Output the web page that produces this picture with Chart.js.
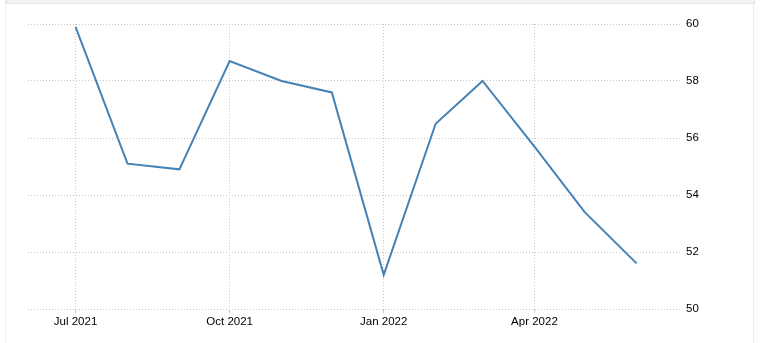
<!DOCTYPE html>
<html>
<head>
<meta charset="utf-8">
<script src="https://cdn.jsdelivr.net/npm/chart.js@4"></script>
<style>
  html, body { margin: 0; padding: 0; background: #fff; }
  #wrap { position: relative; width: 760px; height: 343px; overflow: hidden; }
  #topbar { position: absolute; left: 6px; top: -1px; width: 747px; height: 3px; background: #f3f3f3; border: 1px solid #e3e3e3; }
  #lline { position: absolute; left: 5px; top: 0; width: 1px; height: 343px; background: #f0f0f0; }
  #rline { position: absolute; left: 753px; top: 0; width: 1px; height: 343px; background: #ececec; }
  canvas { position: absolute; left: 0; top: 0; }
</style>
</head>
<body>
<div id="wrap">
  <div id="lline"></div>
  <div id="rline"></div>
  <div id="topbar"></div>
  <canvas id="c" width="760" height="343"></canvas>
</div>
<script>
// Data
const months = ["2021-07-01","2021-08-01","2021-09-01","2021-10-01","2021-11-01","2021-12-01",
                "2022-01-01","2022-02-01","2022-03-01","2022-04-01","2022-05-01","2022-06-01"];
const values = [59.9, 55.1, 54.9, 58.7, 58.0, 57.6, 51.2, 56.5, 58.0, 55.7, 53.4, 51.6];
const tickDates = ["2021-07-01","2021-10-01","2022-01-01","2022-04-01"];
const tickLabels = ["Jul 2021","Oct 2021","Jan 2022","Apr 2022"];
const yTicks = [50, 52, 54, 56, 58, 60];

const toMs = s => Date.parse(s + "T00:00:00Z");
const DAY = 86400000;
const points = months.map((m, i) => ({ x: toMs(m), y: values[i] }));
const tickMs = tickDates.map(toMs);

const gridColor = "#c9c9c9";
const fontFam = "'Liberation Sans', Arial, sans-serif";

new Chart(document.getElementById("c"), {
  type: "line",
  data: {
    datasets: [{
      data: points,
      borderColor: "#4682b4",
      borderWidth: 2,
      pointRadius: 0,
      tension: 0,
      fill: false
    }]
  },
  options: {
    responsive: false,
    animation: false,
    layout: { padding: { left: 28, top: 24, right: 0, bottom: 0 } },
    plugins: { legend: { display: false }, tooltip: { enabled: false } },
    scales: {
      x: {
        type: "linear",
        min: toMs("2021-07-01") - 28.4 * DAY,
        max: toMs("2022-06-01") + 25.9 * DAY,
        afterBuildTicks: s => { s.ticks = tickMs.map(v => ({ value: v })); },
        afterFit: s => { s.height = 34; },
        ticks: {
          autoSkip: false,
          maxRotation: 0,
          padding: 2,
          color: "#000",
          font: { family: fontFam, size: 11.5 },
          callback: v => { const i = tickMs.indexOf(v); return i >= 0 ? tickLabels[i] : ""; }
        },
        grid: { color: gridColor, lineWidth: 1, tickLength: 4, drawTicks: true },
        border: { display: false, dash: [1, 2] }
      },
      y: {
        position: "right",
        min: 50,
        max: 60,
        afterBuildTicks: s => { s.ticks = yTicks.map(v => ({ value: v })); },
        afterFit: s => { s.width = 80; },
        ticks: {
          padding: 6,
          color: "#000",
          font: { family: fontFam, size: 11.5 }
        },
        grid: { color: gridColor, lineWidth: 1, drawTicks: false, tickLength: 0 },
        border: { display: false, dash: [1, 2] }
      }
    }
  }
});
</script>
</body>
</html>
